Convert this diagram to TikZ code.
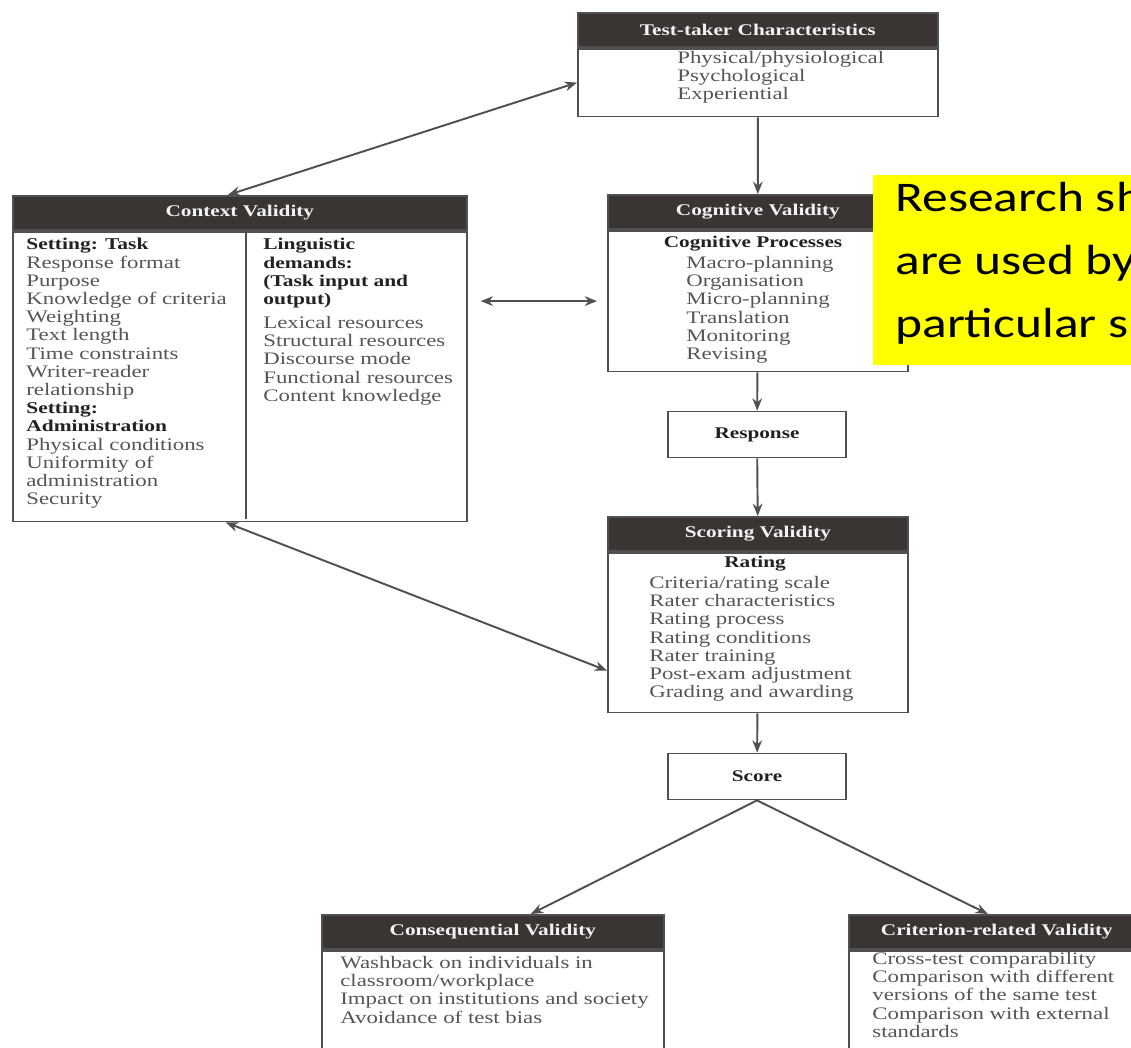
\documentclass[tikz,border=0pt]{standalone}
\usepackage{fontspec}
\setmainfont{Liberation Serif}[FakeStretch=1.3]
\newfontfamily\notefont{Carlito}[FakeStretch=1.22]
\usetikzlibrary{positioning,arrows.meta}
\definecolor{linegray}{HTML}{505050}
\definecolor{hdrfill}{HTML}{3A3432}
\definecolor{hdrtext}{HTML}{F2F2F2}
\definecolor{itemgray}{HTML}{555555}
\definecolor{subdark}{HTML}{222222}
\definecolor{noteyellow}{HTML}{FFFF00}
\newcommand{\itemsize}{\fontsize{10}{10.36}\selectfont}
\newcommand{\hdrsize}{\fontsize{9.3}{11}\selectfont\bfseries}
\newcommand{\notesize}{\notefont\fontsize{24}{35.85}\selectfont}
\newcommand{\subhead}[1]{{\fontsize{9.4}{10.36}\selectfont\bfseries\color{subdark}#1}}
\begin{document}
\begin{tikzpicture}[x=0.02cm,y=-0.02cm,>={Stealth[length=7pt,width=5.5pt]},
  hdr/.style={draw=linegray,line width=1pt,fill=hdrfill,text=hdrtext,font=\hdrsize,minimum height=0.68cm,inner sep=0pt,anchor=north west},
  body/.style={draw=linegray,line width=1pt,inner sep=0pt},
  list/.style={font=\itemsize,text=itemgray,align=left,inner sep=0pt,anchor=north west},
  sub/.style={font=\hdrsize,text=subdark,inner sep=0pt,anchor=base},
  plainbox/.style={draw=linegray,line width=1pt,font=\hdrsize,text=subdark,minimum width=3.57cm,minimum height=0.92cm,inner sep=0pt},
  link/.style={->,draw=linegray,line width=1.1pt}]
    \useasboundingbox (0,0) rectangle (1131,1047);
    \clip (0,0) rectangle (1131,1047);
    \fill[white] (0,0) rectangle (1131,1047);

    \node[hdr,minimum width=7.2cm] (tthead) at (577,12) {Test-taker Characteristics};
    \node[body,below=0pt of tthead,minimum width=7.2cm,minimum height=1.36cm] (ttbody) {};
    \node[list] (ttlist) at (677,51) {Physical/physiological\\Psychological\\Experiential};

    \node[hdr,minimum width=9.08cm] (ctxhead) at (12,195) {Context Validity};
    \node[body,below=0pt of ctxhead,minimum width=9.08cm,minimum height=5.8cm] (ctxbody) {};
    \draw[linegray,line width=1pt] (246,229) -- (246,519);
    \node[list] (ctxleft) at (26,238) {\subhead{Setting: Task}\\Response format\\Purpose\\Knowledge of criteria\\Weighting\\Text length\\Time constraints\\Writer-reader\\relationship\\\subhead{Setting:}\\\subhead{Administration}\\Physical conditions\\Uniformity of\\administration\\Security};
    \node[list] (ctxright) at (263,238) {\subhead{Linguistic}\\\subhead{demands:}\\\subhead{(Task input and}\\\subhead{output)}\\[3.4pt]Lexical resources\\Structural resources\\Discourse mode\\Functional resources\\Content knowledge};

    \node[hdr,minimum width=6cm] (coghead) at (607,194) {Cognitive Validity};
    \node[body,below=0pt of coghead,minimum width=6cm,minimum height=2.82cm] (cogbody) {};
    \node[sub] (cogsub) at (753,248) {Cognitive Processes};
    \node[list] (coglist) at (686,256) {Macro-planning\\Organisation\\Micro-planning\\Translation\\Monitoring\\Revising};

    \node[fill=noteyellow,minimum width=5.4cm,minimum height=3.8cm,inner sep=0pt,anchor=north west] (note) at (873,175) {};
    \node[font=\notesize,align=left,inner sep=0pt,anchor=north west] (notetext) at (895,182) {Research sh\\are used by\\particular s};

    \node[plainbox] (response) at (757,434.5) {Response};

    \node[hdr,minimum width=6cm] (schead) at (607,516) {Scoring Validity};
    \node[body,below=0pt of schead,minimum width=6cm,minimum height=3.2cm] (scbody) {};
    \node[sub] (scsub) at (755,567) {Rating};
    \node[list] (sclist) at (649,576) {Criteria/rating scale\\Rater characteristics\\Rating process\\Rating conditions\\Rater training\\Post-exam adjustment\\Grading and awarding};

    \node[plainbox] (score) at (757,776.5) {Score};

    \node[hdr,minimum width=6.84cm] (conhead) at (321,914) {Consequential Validity};
    \node[body,below=0pt of conhead,minimum width=6.84cm,minimum height=2.84cm] (conbody) {};
    \node[list] (conlist) at (340,956) {Washback on individuals in\\classroom/workplace\\Impact on institutions and society\\Avoidance of test bias};

    \node[hdr,minimum width=5.92cm] (crithead) at (848,914) {Criterion-related Validity};
    \node[body,below=0pt of crithead,minimum width=5.92cm,minimum height=2.84cm] (critbody) {};
    \node[list] (critlist) at (872,952) {Cross-test comparability\\Comparison with different\\versions of the same test\\Comparison with external\\standards};

    \draw[link,<->] ([xshift=-0.24cm]ctxhead.north) -- (ttbody.west);
    \draw[link] (ttbody) -- (coghead);
    \draw[link,<->,shorten <=0.26cm,shorten >=0.2cm] (ctxbody.east |- cogbody.west) -- (cogbody.west);
    \draw[link] (cogbody) -- (response);
    \draw[link] (response) -- (schead);
    \draw[link,<->] ([xshift=-0.28cm]ctxbody.south) -- ([yshift=-0.76cm]scbody.west);
    \draw[link] (scbody) -- (score);
    \draw[link] (score.south) -- ([xshift=0.76cm]conhead.north);
    \draw[link] (score.south) -- ([xshift=-0.18cm]crithead.north);
\end{tikzpicture}
\end{document}
